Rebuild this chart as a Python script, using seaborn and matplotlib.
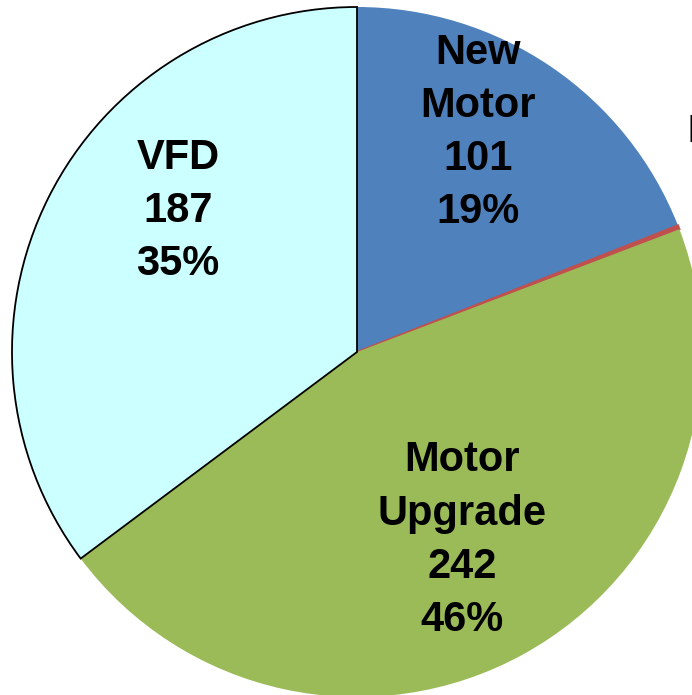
import matplotlib
matplotlib.use("Agg")
import matplotlib.pyplot as plt
import seaborn as sns

sns.set_theme(style="white")
plt.rcParams['font.family'] = ['Liberation Sans', 'DejaVu Sans']

categories = ["New\nMotor", "Other", "Motor\nUpgrade", "VFD"]
values = [101, 1, 242, 187]
percents = ["19%", "", "46%", "35%"]
colors = ["#4F81BD", "#C0504D", "#9BBB59", "#CCFFFF"]
label_pos = [(0.351, 0.635), None, (0.304, -0.545), (-0.519, 0.409)]

fig = plt.figure(figsize=(6.92, 6.95), dpi=100)
ax = fig.add_axes([12 / 692, -2 / 695, 690 / 692, 690 / 695])
wedges, _ = ax.pie(values, colors=colors, startangle=90, counterclock=False,
                   radius=1.0, wedgeprops=dict(linewidth=0))
for w in wedges:
    w.set_clip_on(False)
wedges[1].set_edgecolor(colors[1])
wedges[1].set_linewidth(1.5)
wedges[3].set_edgecolor("black")
wedges[3].set_linewidth(1.3)
wedges[3].set_zorder(5)
ax.set_xlim(-1, 1)
ax.set_ylim(-1, 1)
ax.set_aspect("auto")
ax.axis("off")

for cat, val, pct, pos in zip(categories, values, percents, label_pos):
    if pos is None:
        continue
    ax.text(pos[0], pos[1], f"{cat}\n{val}\n{pct}", ha="center", va="center",
            fontsize=30, fontweight="bold", color="black", linespacing=1.42,
            zorder=10)

fig.text(687 / 692, 1 - 132 / 695, "I", fontsize=27, color="black",
         ha="left", va="center")

fig.savefig("out.png", dpi=100)
